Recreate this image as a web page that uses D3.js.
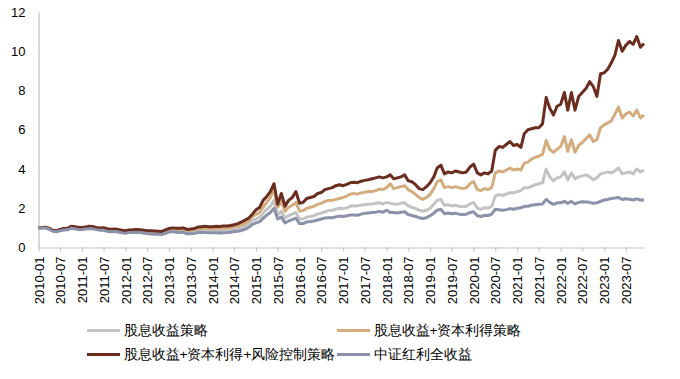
<!DOCTYPE html>
<html><head><meta charset="utf-8">
<script src="https://cdn.jsdelivr.net/npm/d3@7"></script>
<style>
body{margin:0;background:#fff;}
svg{display:block;}
text{font-family:"Liberation Sans",Arial,sans-serif;}
</style></head>
<body>
<svg id="chart" width="680" height="379"></svg>
<script>
// Monthly values, 2010-01 .. 2023-12
const seriesNames = ["股息收益策略","股息收益+资本利得策略","股息收益+资本利得+风险控制策略","中证红利全收益"];
const colors = ["#c3c3c3","#d4ad7e","#6b2d1f","#8a91a8"];
const yTicks = [0,2,4,6,8,10,12];

const dividend = [
1.00,1.00,1.01,0.95,0.85,0.82,0.88,0.92,0.93,1.01,0.99,0.96,
0.95,0.98,1.00,0.99,0.95,0.92,0.93,0.88,0.85,0.86,0.84,0.80,
0.77,0.81,0.82,0.84,0.82,0.80,0.78,0.76,0.75,0.74,0.73,0.80,
0.87,0.89,0.87,0.86,0.88,0.80,0.81,0.83,0.88,0.89,0.90,0.88,
0.86,0.87,0.86,0.88,0.89,0.91,0.94,0.97,1.02,1.10,1.22,1.38,
1.45,1.55,1.75,1.95,2.10,2.40,1.65,1.85,1.50,1.62,1.70,1.78,
1.45,1.45,1.55,1.58,1.62,1.70,1.75,1.82,1.88,1.90,1.95,2.00,
1.98,2.02,2.10,2.13,2.12,2.16,2.18,2.20,2.22,2.25,2.28,2.22,
2.30,2.25,2.22,2.20,2.25,2.28,2.12,2.05,1.98,1.90,1.85,1.90,
2.00,2.20,2.40,2.45,2.15,2.18,2.12,2.15,2.10,2.08,2.10,2.22,
2.30,2.00,1.95,2.02,2.00,2.10,2.62,2.70,2.65,2.72,2.80,2.78,
2.85,2.90,3.05,3.05,3.12,3.20,3.25,3.30,4.00,3.60,3.40,3.55,
3.60,3.85,3.45,3.80,3.50,3.60,3.65,3.70,3.60,3.45,3.55,3.75,
3.80,3.85,3.80,3.90,4.05,3.75,3.80,3.85,3.75,4.00,3.85,3.95];

const capital = [
1.00,1.01,1.02,0.96,0.86,0.83,0.89,0.94,0.95,1.04,1.02,0.99,
0.98,1.01,1.04,1.03,0.98,0.96,0.97,0.92,0.89,0.90,0.88,0.84,
0.81,0.85,0.86,0.88,0.86,0.84,0.82,0.80,0.79,0.78,0.77,0.85,
0.92,0.95,0.93,0.92,0.94,0.86,0.88,0.90,0.96,0.98,0.99,0.97,
0.97,0.98,0.97,0.99,1.00,1.02,1.05,1.09,1.15,1.24,1.38,1.58,
1.68,1.80,2.05,2.30,2.55,3.00,2.05,2.35,1.85,2.05,2.15,2.30,
1.85,1.88,2.00,2.05,2.10,2.20,2.25,2.35,2.40,2.40,2.45,2.50,
2.55,2.62,2.72,2.75,2.72,2.78,2.82,2.85,2.85,2.90,2.98,2.95,
3.05,3.25,3.00,3.05,3.10,3.15,2.95,2.85,2.70,2.55,2.45,2.55,
2.70,3.00,3.35,3.45,3.05,3.10,3.05,3.10,3.05,3.00,3.05,3.25,
3.36,2.95,2.90,3.00,2.95,3.05,3.80,3.90,3.85,3.95,4.05,3.95,
4.00,3.95,4.30,4.35,4.50,4.60,4.65,4.75,5.45,5.00,4.85,5.00,
5.15,5.65,4.90,5.50,4.85,5.20,5.35,5.55,5.74,5.40,5.50,6.10,
6.25,6.35,6.45,6.80,7.15,6.60,6.80,6.90,6.70,7.00,6.60,6.75];

const riskControl = [
1.00,1.02,1.03,0.98,0.88,0.85,0.92,0.97,0.98,1.08,1.06,1.03,
1.02,1.05,1.08,1.07,1.02,1.00,1.01,0.96,0.93,0.94,0.92,0.88,
0.85,0.89,0.90,0.92,0.90,0.88,0.86,0.85,0.84,0.83,0.82,0.90,
0.97,1.00,0.98,0.98,1.00,0.92,0.94,0.97,1.04,1.06,1.08,1.06,
1.06,1.08,1.07,1.09,1.10,1.12,1.16,1.22,1.30,1.40,1.50,1.70,
1.92,2.05,2.40,2.60,2.85,3.25,2.20,2.75,2.10,2.40,2.55,2.85,
2.25,2.30,2.50,2.55,2.60,2.75,2.80,2.95,3.00,3.05,3.15,3.20,
3.15,3.22,3.30,3.32,3.30,3.38,3.42,3.45,3.50,3.55,3.60,3.55,
3.60,3.70,3.50,3.55,3.60,3.70,3.40,3.35,3.20,3.00,2.95,3.10,
3.30,3.60,4.05,4.20,3.75,3.85,3.80,3.90,3.85,3.80,3.85,4.10,
4.25,3.80,3.70,3.80,3.75,3.90,4.95,5.15,5.10,5.25,5.40,5.20,
5.25,5.10,5.80,6.00,6.05,6.10,6.10,6.30,7.65,7.10,6.75,7.20,
7.30,7.90,7.00,7.90,7.00,7.70,7.90,8.10,8.45,8.20,7.70,8.85,
8.90,9.10,9.40,9.80,10.55,10.00,10.30,10.50,10.35,10.75,10.20,10.40];

const csiDividend = [
1.00,0.99,1.00,0.93,0.83,0.80,0.86,0.89,0.90,0.98,0.95,0.92,
0.91,0.94,0.96,0.95,0.91,0.88,0.88,0.83,0.80,0.81,0.79,0.75,
0.72,0.76,0.77,0.78,0.76,0.74,0.71,0.69,0.68,0.67,0.66,0.72,
0.79,0.81,0.78,0.77,0.78,0.70,0.70,0.72,0.76,0.77,0.77,0.75,
0.75,0.75,0.74,0.75,0.76,0.78,0.81,0.83,0.87,0.93,1.03,1.18,
1.25,1.32,1.48,1.65,1.78,2.00,1.45,1.55,1.25,1.35,1.42,1.50,
1.22,1.22,1.30,1.32,1.35,1.40,1.45,1.50,1.52,1.52,1.56,1.60,
1.58,1.62,1.65,1.66,1.64,1.70,1.74,1.76,1.78,1.80,1.84,1.80,
1.90,1.78,1.78,1.76,1.80,1.82,1.68,1.63,1.58,1.52,1.48,1.52,
1.62,1.75,1.90,1.95,1.72,1.76,1.72,1.75,1.70,1.68,1.70,1.78,
1.82,1.62,1.58,1.64,1.63,1.70,1.95,1.92,1.90,1.93,1.98,1.95,
2.00,2.02,2.10,2.10,2.15,2.18,2.20,2.22,2.45,2.30,2.20,2.28,
2.28,2.35,2.25,2.35,2.22,2.30,2.33,2.32,2.30,2.25,2.28,2.35,
2.42,2.45,2.50,2.52,2.55,2.45,2.48,2.46,2.42,2.48,2.42,2.42];

const allSeries = [dividend, capital, riskControl, csiDividend];
const months = d3.range(dividend.length).map(i => new Date(2010, i, 1));

const svg = d3.select("#chart");
const x = d3.scaleTime().domain([months[0], months[months.length-1]]).range([38.5, 644]);
const y = d3.scaleLinear().domain([0, 12]).range([247.5, 12]);

// y axis
const yAxis = svg.append("g").attr("transform","translate(38.5,0)")
  .call(d3.axisLeft(y).tickValues(yTicks).tickSize(0).tickPadding(13));
yAxis.select(".domain").attr("stroke","#bfbfbf").attr("stroke-width",1.2);
yAxis.selectAll("text").attr("font-size","13px").attr("fill","#000")
  .attr("font-family","Liberation Sans, Arial, sans-serif");

// x axis
const xAxis = svg.append("g").attr("transform","translate(0,247.5)")
  .call(d3.axisBottom(x).ticks(d3.timeMonth.every(6)).tickFormat(d3.timeFormat("%Y-%m")).tickSize(4).tickSizeOuter(0));
xAxis.select(".domain").attr("stroke","#bfbfbf").attr("stroke-width",1.2);
xAxis.selectAll(".tick line").attr("stroke","#bfbfbf");
xAxis.selectAll("text")
  .attr("font-size","13px").attr("fill","#000")
  .attr("font-family","Liberation Sans, Arial, sans-serif")
  .attr("transform","rotate(-90)")
  .attr("text-anchor","end")
  .attr("x",-9).attr("y",0).attr("dy","0.35em");

// lines
const line = d3.line().x((d,i) => x(months[i])).y(d => y(d)).curve(d3.curveLinear);
allSeries.forEach((s, k) => {
  svg.append("path").datum(s)
    .attr("fill","none").attr("stroke",colors[k]).attr("stroke-width",3)
    .attr("stroke-linejoin","round").attr("d",line);
});

// legend
const legendPos = [[87,330.5],[337,330.5],[87,354.5],[337,354.5]];
seriesNames.forEach((n,k) => {
  const [lx, ly] = legendPos[k];
  svg.append("line").attr("x1",lx).attr("x2",lx+33).attr("y1",ly).attr("y2",ly)
    .attr("stroke",colors[k]).attr("stroke-width",3);
  svg.append("text").attr("x",lx+36.5).attr("y",ly).attr("dy","0.36em")
    .attr("font-family","'Noto Sans CJK SC', sans-serif").attr("font-size","13.6px")
    .attr("fill","#000").text(n);
});
</script>
</body></html>
